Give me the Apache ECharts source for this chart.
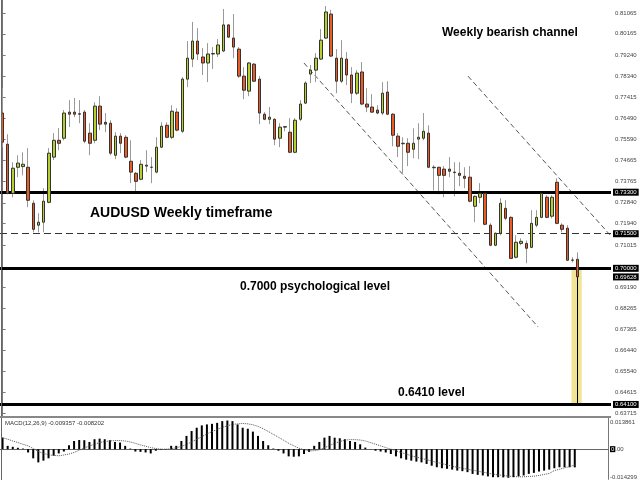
<!DOCTYPE html>
<html><head><meta charset="utf-8">
<script src="https://cdn.jsdelivr.net/npm/echarts@6/dist/echarts.min.js"></script>
<style>html,body{margin:0;padding:0;background:#fff}#c{width:640px;height:480px}</style>
</head><body><div id="c"></div>
<script>
// Weekly AUDUSD candles
const openP = [.7673,.7538,.7325,.7438,.7441,.7438,.7282,.7187,.7200,.7286,.7482,.7555,.7564,.7677,.7677,.7670,.7677,.7586,.7555,.7703,
.7633,.7629,.7490,.7573,.7568,.7464,.7412,.7386,.7443,.7438,.7417,.7525,.7620,.7568,.7677,.7594,.7820,.7907,.7985,.7916,
.7890,.7929,.7929,.7942,.8055,.7998,.7950,.7833,.7768,.7885,.7820,.7668,.7646,.7646,.7564,.7614,.7590,.7503,.7646,.7716,
.7842,.7859,.7907,.7998,.8102,.7911,.7811,.7907,.7838,.7759,.7851,.7712,.7699,.7686,.7673,.7764,.7668,.7573,.7542,.7542,
.7516,.7560,.7564,.7586,.7438,.7438,.7430,.7430,.7417,.7412,.7399,.7395,.7269,.7308,.7325,.7187,.7100,.7152,.7260,.7221,
.7048,.7108,.7108,.7091,.7187,.7221,.7308,.7226,.7373,.7187,.7174,.7036,.7039];
const highP = [.7781,.7581,.7460,.7490,.7503,.7521,.7295,.7239,.7347,.7521,.7586,.7608,.7686,.7729,.7738,.7729,.7686,.7629,.7720,.7746,
.7673,.7642,.7590,.7586,.7577,.7555,.7417,.7469,.7512,.7482,.7568,.7633,.7633,.7707,.7694,.7829,.7985,.8068,.8041,.7955,
.7976,.7959,.7994,.8124,.8059,.8102,.7959,.7872,.7894,.7890,.7833,.7677,.7699,.7651,.7629,.7616,.7651,.7651,.7729,.7811,
.7881,.7933,.8037,.8137,.8120,.7950,.7989,.7937,.7872,.7859,.7894,.7781,.7755,.7707,.7807,.7811,.7673,.7586,.7568,.7564,
.7607,.7629,.7673,.7620,.7447,.7440,.7443,.7482,.7460,.7460,.7438,.7443,.7317,.7369,.7330,.7195,.7156,.7304,.7295,.7225,
.7143,.7130,.7121,.7252,.7252,.7330,.7317,.7317,.7390,.7195,.7187,.7048,.7069];
const lowP = [.7525,.7321,.7308,.7395,.7403,.7265,.7156,.7156,.7156,.7282,.7469,.7512,.7555,.7612,.7655,.7629,.7542,.7490,.7542,.7599,
.7590,.7490,.7473,.7499,.7477,.7369,.7325,.7382,.7417,.7369,.7412,.7521,.7564,.7560,.7594,.7586,.7785,.7872,.7903,.7838,
.7807,.7864,.7916,.7937,.7998,.7911,.7825,.7733,.7746,.7807,.7625,.7642,.7625,.7534,.7525,.7594,.7499,.7499,.7638,.7712,
.7803,.7807,.7903,.7994,.7916,.7759,.7803,.7794,.7716,.7751,.7707,.7677,.7673,.7668,.7664,.7664,.7529,.7482,.7412,.7443,
.7477,.7473,.7555,.7434,.7338,.7321,.7308,.7395,.7312,.7356,.7347,.7286,.7200,.7282,.7187,.7096,.7096,.7143,.7208,.7041,
.7043,.7100,.7022,.7087,.7178,.7217,.7217,.7217,.7191,.7156,.7033,.7026,.6960];
const closeP = [.7547,.7325,.7434,.7456,.7451,.7295,.7169,.7200,.7291,.7499,.7555,.7542,.7673,.7668,.7668,.7668,.7551,.7542,.7703,.7625,
.7625,.7499,.7573,.7542,.7482,.7417,.7377,.7451,.7447,.7438,.7525,.7616,.7568,.7681,.7599,.7820,.7911,.7985,.7929,.7890,
.7929,.7931,.7968,.8055,.8002,.7959,.7833,.7772,.7890,.7811,.7673,.7646,.7655,.7560,.7612,.7612,.7503,.7642,.7712,.7803,
.7859,.7911,.7989,.8111,.7920,.7811,.7911,.7838,.7759,.7846,.7712,.7699,.7677,.7673,.7759,.7668,.7577,.7529,.7540,.7503,
.7542,.7568,.7594,.7438,.7436,.7403,.7403,.7421,.7415,.7403,.7390,.7291,.7312,.7325,.7191,.7100,.7152,.7282,.7217,.7043,
.7113,.7117,.7087,.7195,.7221,.7325,.7221,.7308,.7195,.7169,.7035,.7035,.69628];
// MACD(12,26,9) histogram and signal
const macdHist = [.0059,.0017,.0012,.0007,.0003,-.0017,-.0047,-.0068,-.0059,-.0047,-.0034,-.0022,-.0012,.0020,.0042,.0047,.0046,.0037,.0051,.0054,
.0051,.0046,.0037,.0034,.0017,.0003,-.0012,-.0014,-.0017,-.0022,-.0008,-.0003,-.0002,.0017,.0017,.0042,.0068,.0093,.0110,.0122,
.0127,.0130,.0135,.0144,.0147,.0144,.0127,.0110,.0105,.0090,.0068,.0042,.0020,.0003,-.0008,-.0022,-.0037,-.0039,-.0037,-.0025,
-.0014,.0017,.0037,.0059,.0068,.0059,.0056,.0051,.0042,.0037,.0025,.0008,.0001,-.0008,-.0012,-.0017,-.0025,-.0037,-.0047,-.0054,
-.0059,-.0064,-.0068,-.0076,-.0085,-.0093,-.0098,-.0101,-.0105,-.0110,-.0113,-.0118,-.0127,-.0132,-.0135,-.0140,-.0144,-.0144,-.0145,-.0147,
-.0144,-.0140,-.0135,-.0127,-.0122,-.0115,-.0110,-.0105,-.0098,-.0093,-.0093,-.0093,-.009357];
const macdSignal = [.0059,.0051,.0042,.0034,.0025,.0017,.0003,-.0012,-.0022,-.0029,-.0032,-.0034,-.0030,-.0025,-.0017,-.0005,.0005,.0017,.0025,.0034,
.0039,.0042,.0044,.0044,.0042,.0037,.0030,.0022,.0015,.0008,.0003,0,0,.0002,.0007,.0014,.0024,.0037,.0051,.0064,
.0078,.0090,.0101,.0112,.0120,.0127,.0130,.0132,.0130,.0125,.0117,.0105,.0091,.0076,.0061,.0046,.0030,.0017,.0005,-.0003,
-.0008,-.0008,-.0003,.0007,.0019,.0030,.0039,.0046,.0049,.0049,.0047,.0042,.0034,.0025,.0017,.0008,0,-.0008,-.0017,-.0025,
-.0034,-.0041,-.0047,-.0054,-.0061,-.0068,-.0074,-.0081,-.0088,-.0093,-.0098,-.0103,-.0108,-.0113,-.0118,-.0123,-.0128,-.0132,-.0135,-.0139,
-.0140,-.0142,-.0142,-.0140,-.0139,-.0135,-.0130,-.0125,-.0110,-.0103,-.0096,-.0089,-.008202];
const slotCount = 119;
const priceTicks = [0.81065,0.80165,0.79240,0.78340,0.77415,0.76490,0.75590,0.74665,0.73765,0.72840,0.71940,0.71015,0.69190,0.68265,0.67365,0.66440,0.65540,0.64615,0.63715];
const macdTicks = [0.013861, 0, -0.014299];
const solidLevels = [0.733, 0.700, 0.641];
const dashedLevel = 0.715;
const lastPrice = 0.69628;
const lowerChannel = [[58.7, 0.7890], [104.3, 0.6746]];
const upperChannel = [[90.65, 0.7833], [118.5, 0.7140]];
const targetZone = [[110.8, 0.700], [112.8, 0.641]];
const targetIndex = 112;

const FONT = '"Liberation Sans", Arial, sans-serif';
const cats = Array.from({length: slotCount}, (_, i) => String(i));
const wickData = openP.map((o, i) => [o, closeP[i], lowP[i], highP[i]]);
const bodyData = openP.map((o, i) => [o, closeP[i], Math.min(o, closeP[i]), Math.max(o, closeP[i])]);

const tagLabel = (txt) => ({show: true, position: 'end', distance: 2, formatter: txt, color: '#fff',
  backgroundColor: '#000', fontSize: 6, fontFamily: FONT, padding: [1, 2, 0, 2]});

const levelMarks = solidLevels.map(v => ({yAxis: v, lineStyle: {color: '#000', width: 3, type: 'solid'}, label: tagLabel(v.toFixed(5))}));
levelMarks.push({yAxis: dashedLevel, lineStyle: {color: '#333', width: 1, type: [7, 4]}, label: tagLabel(dashedLevel.toFixed(5))});
levelMarks.push({yAxis: lastPrice, lineStyle: {color: 'rgba(0,0,0,0)', width: 0}, label: tagLabel(lastPrice.toFixed(5))});

const chart = echarts.init(document.getElementById('c'), null, {renderer: 'canvas'});
chart.setOption({
  animation: false,
  backgroundColor: '#fff',
  grid: [
    {left: 0, top: 0, width: 611, height: 416},
    {left: 0, top: 418, width: 611, height: 62}
  ],
  xAxis: [
    {type: 'category', gridIndex: 0, data: cats, boundaryGap: true, show: false},
    {type: 'value', gridIndex: 0, min: -0.5, max: slotCount - 0.5, show: false},
    {type: 'category', gridIndex: 1, data: cats, boundaryGap: true,
      axisLine: {show: true, onZero: true, lineStyle: {color: '#666', width: 1}},
      axisTick: {show: false}, axisLabel: {show: false}}
  ],
  yAxis: [
    {type: 'value', gridIndex: 0, position: 'right', min: 0.6360, max: 0.8163,
      axisLine: {show: true, lineStyle: {color: '#777'}},
      axisTick: {show: true, length: 3, customValues: priceTicks, lineStyle: {color: '#777'}},
      axisLabel: {customValues: priceTicks, formatter: v => v.toFixed(5), fontSize: 6, color: '#444', margin: 4, fontFamily: FONT},
      splitLine: {show: false}},
    {type: 'value', gridIndex: 1, position: 'right', min: -0.0155, max: 0.016,
      axisLine: {show: true, lineStyle: {color: '#777'}},
      axisTick: {show: false},
      axisLabel: {customValues: macdTicks, fontSize: 6, color: '#444', margin: 2, fontFamily: FONT,
        formatter: v => v === 0 ? '{b|0}.00' : v.toFixed(6),
        rich: {b: {backgroundColor: '#000', color: '#fff', fontSize: 6, padding: [0, 1]}}},
      splitLine: {show: false}}
  ],
  graphic: [
    {type: 'line', shape: {x1: 1.5, y1: 0, x2: 1.5, y2: 480}, style: {stroke: '#666', lineWidth: 1}, z: 50},
    {type: 'line', shape: {x1: 0, y1: 417, x2: 611, y2: 417}, style: {stroke: '#888', lineWidth: 2}, z: 50},
    {type: 'text', style: {x: 442, y: 33, text: 'Weekly bearish channel', font: 'bold 12px ' + FONT, fill: '#000', verticalAlign: 'middle'}, z: 60},
    {type: 'text', style: {x: 90, y: 213, text: 'AUDUSD Weekly timeframe', font: 'bold 14px ' + FONT, fill: '#000', verticalAlign: 'middle'}, z: 60},
    {type: 'text', style: {x: 240, y: 287, text: '0.7000 psychological level', font: 'bold 12px ' + FONT, fill: '#000', verticalAlign: 'middle'}, z: 60},
    {type: 'text', style: {x: 398, y: 393, text: '0.6410 level', font: 'bold 12px ' + FONT, fill: '#000', verticalAlign: 'middle'}, z: 60},
    {type: 'text', style: {x: 5, y: 423, text: 'MACD(12,26,9) -0.009357 -0.008202', font: '6px ' + FONT, fill: '#333', verticalAlign: 'middle'}, z: 60}
  ],
  series: [
    {type: 'line', xAxisIndex: 1, yAxisIndex: 0, data: [], symbol: 'none', z: 1,
      markArea: {silent: true, itemStyle: {color: '#F2E496'},
        data: [[{coord: targetZone[0]}, {coord: targetZone[1]}]]},
      markLine: {silent: true, symbol: ['none', 'none'], precision: 5, label: {show: false},
        lineStyle: {color: '#000', width: 1, type: 'solid'},
        data: [[{coord: [targetIndex, lastPrice]}, {coord: [targetIndex, solidLevels[2]]}]]}},
    {type: 'line', xAxisIndex: 1, yAxisIndex: 0, data: lowerChannel, symbol: 'none', z: 3,
      lineStyle: {color: '#555', width: 1, type: [5, 3]}},
    {type: 'line', xAxisIndex: 1, yAxisIndex: 0, data: upperChannel, symbol: 'none', z: 3,
      lineStyle: {color: '#555', width: 1, type: [5, 3]}},
    {type: 'candlestick', xAxisIndex: 0, yAxisIndex: 0, data: wickData, barWidth: 1, z: 4,
      itemStyle: {color: 'rgba(0,0,0,0)', color0: 'rgba(0,0,0,0)', borderColor: '#999', borderColor0: '#999', borderWidth: 1}},
    {type: 'candlestick', xAxisIndex: 0, yAxisIndex: 0, data: bodyData, barWidth: 3, z: 5,
      itemStyle: {color: '#B5CF2F', color0: '#EE5A24', borderColor: '#333', borderColor0: '#333', borderWidth: 1},
      markLine: {silent: true, symbol: ['none', 'none'], precision: 5, data: levelMarks}},
    {type: 'bar', xAxisIndex: 2, yAxisIndex: 1, data: macdHist, barWidth: 2, itemStyle: {color: '#000'}},
    {type: 'line', xAxisIndex: 2, yAxisIndex: 1, data: macdSignal, symbol: 'none',
      lineStyle: {color: '#555', width: 1, type: 'dotted'}}
  ]
});
</script>
</body></html>
